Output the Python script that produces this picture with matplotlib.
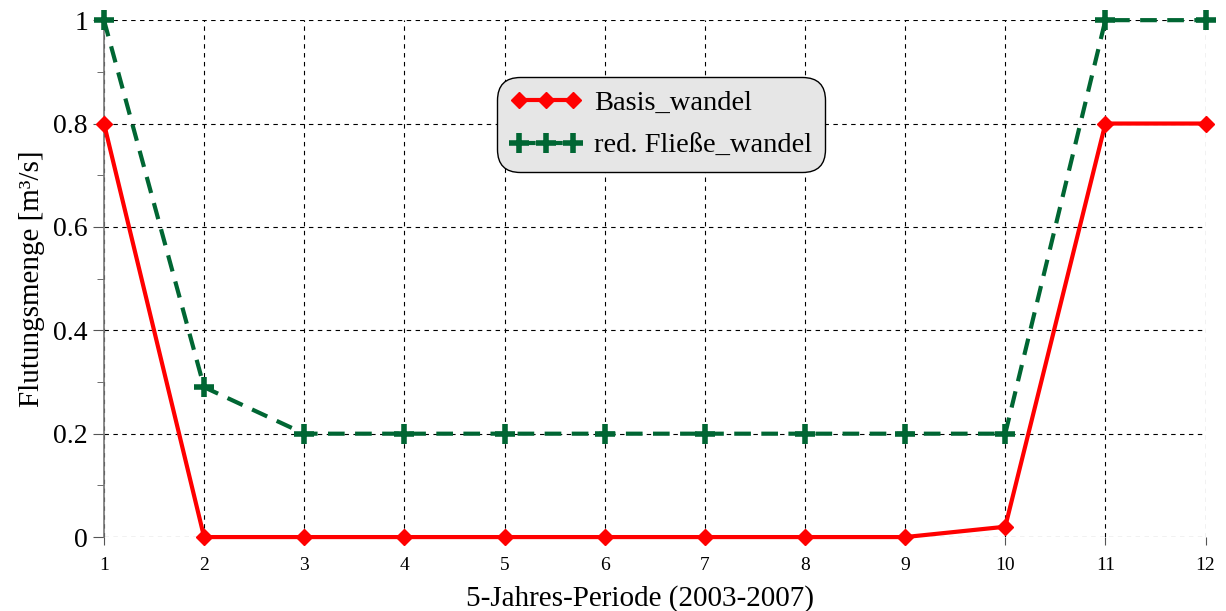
import numpy as np
import matplotlib.pyplot as plt
from matplotlib.ticker import MultipleLocator

plt.rcParams['font.family'] = ['Liberation Serif', 'DejaVu Serif']

# Daten
perioden = np.arange(1, 13)
basis_wandel = [0.8, 0, 0, 0, 0, 0, 0, 0, 0, 0.02, 0.8, 0.8]
red_fliesse_wandel = [1.0, 0.29, 0.2, 0.2, 0.2, 0.2, 0.2, 0.2, 0.2, 0.2, 1.0, 1.0]
y_ticks = [0, 0.2, 0.4, 0.6, 0.8, 1.0]
y_labels = ['0', '0.2', '0.4', '0.6', '0.8', '1']

fig = plt.figure(figsize=(12.26, 6.11), dpi=100)
ax = fig.add_axes([0.0848, 0.121, 0.8985, 0.846])

ax.plot(perioden, basis_wandel, color='#ff0000', lw=3, marker='D', ms=8,
        label='Basis_wandel', zorder=4, clip_on=False)
ax.plot(perioden, red_fliesse_wandel, color='#006633', lw=3, ls=(0, (4, 2.5)),
        marker='+', ms=14, mew=4, label='red. Fließe_wandel', zorder=3, clip_on=False)

ax.set_xlim(1, 12)
ax.set_ylim(0, 1)
ax.set_xticks(perioden)
ax.set_yticks(y_ticks)
ax.set_yticklabels(y_labels)
ax.yaxis.set_minor_locator(MultipleLocator(0.1))
ax.tick_params(axis='y', which='major', labelsize=20, length=8, color='#555555')
ax.tick_params(axis='y', which='minor', length=5, color='#555555')
ax.tick_params(axis='x', labelsize=14, length=6, color='#555555', pad=8)

ax.grid(True, ls=(0, (4, 4)), color='black', lw=0.8)
for s in ['top', 'right', 'bottom']:
    ax.spines[s].set_visible(False)
ax.spines['left'].set_color('#777777')
ax.spines['left'].set_linewidth(1.2)

ax.set_xlabel('5-Jahres-Periode (2003-2007)', fontsize=21)
ax.xaxis.set_label_coords(0.487, -0.118, transform=ax.transAxes)
ax.xaxis.label.set_va('center')
ax.set_ylabel('Flutungsmenge [m³/s]', fontsize=21, labelpad=6)

leg = ax.legend(loc='upper left', bbox_to_anchor=(0.357, 0.89), borderaxespad=0,
                fontsize=20.5, fancybox=True, framealpha=1, facecolor='#e6e6e6',
                edgecolor='black', numpoints=3, handlelength=2.5, borderpad=0.45,
                labelspacing=0.6, handletextpad=0.45)
leg.get_frame().set_linewidth(1.0)
leg.get_frame().set_boxstyle('round,pad=0,rounding_size=0.8')

fig.savefig('out.png', dpi=100)
